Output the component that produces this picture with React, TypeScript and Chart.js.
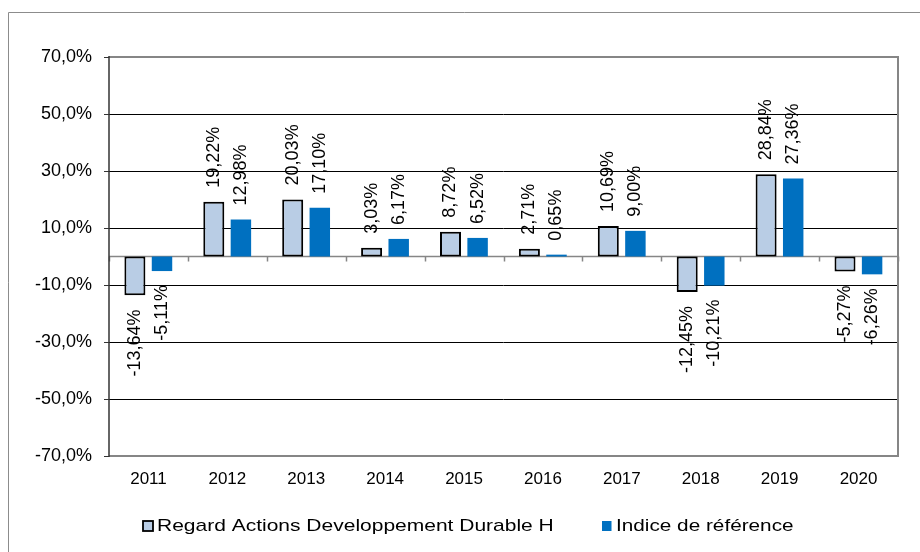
import React, { useEffect, useRef } from "react";
import { Chart, registerables } from "chart.js";

Chart.register(...registerables);

const categories = ["2011", "2012", "2013", "2014", "2015", "2016", "2017", "2018", "2019", "2020"];
const fundLabel = "Regard Actions Developpement Durable H";
const indexLabel = "Indice de référence";
const fundValues = [-13.64, 19.22, 20.03, 3.03, 8.72, 2.71, 10.69, -12.45, 28.84, -5.27];
const indexValues = [-5.11, 12.98, 17.1, 6.17, 6.52, 0.65, 9.0, -10.21, 27.36, -6.26];
const yMin = -70;
const yMax = 70;
const yStep = 20;

const FONT = "'Liberation Sans', Arial, sans-serif";
const FRAME = "#868686";

const fmtPct = (v: number, d: number) => v.toFixed(d).replace(".", ",") + "%";

const decorPlugin = {
  id: "decor",
  beforeDraw(chart: any) {
    const ctx = chart.ctx;
    ctx.save();
    ctx.strokeStyle = "#8c8c8c";
    ctx.lineWidth = 1;
    ctx.beginPath();
    ctx.moveTo(8.5, 560);
    ctx.lineTo(8.5, 12.5);
    ctx.lineTo(930, 12.5);
    ctx.stroke();
    ctx.restore();
  },
  beforeDatasetsDraw(chart: any) {
    const ctx = chart.ctx;
    const ca = chart.chartArea;
    const xs = chart.scales.x;
    const ys = chart.scales.y;
    const y0 = ys.getPixelForValue(0);
    const half = (xs.getPixelForValue(1) - xs.getPixelForValue(0)) / 2;
    ctx.save();
    ctx.strokeStyle = FRAME;
    ctx.lineWidth = 1.5;
    ctx.beginPath();
    ctx.moveTo(ca.left, y0);
    ctx.lineTo(ca.right, y0);
    for (let i = 0; i <= categories.length; i++) {
      const x = Math.round(xs.getPixelForValue(0) - half + i * 2 * half) + 0.5;
      ctx.moveTo(x, y0);
      ctx.lineTo(x, y0 + 5);
    }
    ctx.stroke();
    ctx.restore();
  },
  afterDatasetsDraw(chart: any) {
    const ctx = chart.ctx;
    const ca = chart.chartArea;
    ctx.save();
    // frame
    ctx.strokeStyle = FRAME;
    ctx.lineWidth = 2;
    ctx.beginPath();
    ctx.moveTo(ca.left, ca.top);
    ctx.lineTo(ca.right, ca.top);
    ctx.lineTo(ca.right, ca.bottom);
    ctx.lineTo(ca.left, ca.bottom);
    ctx.stroke();
    ctx.strokeStyle = "#333";
    ctx.lineWidth = 1.5;
    ctx.beginPath();
    ctx.moveTo(ca.left, ca.top - 1);
    ctx.lineTo(ca.left, ca.bottom + 1);
    ctx.stroke();

    // data labels
    ctx.font = `18px ${FONT}`;
    ctx.fillStyle = "#000";
    ctx.textBaseline = "middle";
    chart.data.datasets.forEach((ds: any, di: number) => {
      const meta = chart.getDatasetMeta(di);
      meta.data.forEach((el: any, i: number) => {
        const v = ds.data[i];
        const gap = 14;
        ctx.save();
        if (v >= 0) {
          ctx.translate(el.x, Math.min(el.y, el.base) - gap);
          ctx.rotate(-Math.PI / 2);
          ctx.textAlign = "left";
        } else {
          ctx.translate(el.x, Math.max(el.y, el.base) + gap);
          ctx.rotate(-Math.PI / 2);
          ctx.textAlign = "right";
        }
        ctx.fillText(fmtPct(v, 2), 0, 0);
        ctx.restore();
      });
    });

    // legend
    const items = [
      { boxX: 143, boxW: 10, textX: 157 },
      { boxX: 602, boxW: 9.5, textX: 616 },
    ];
    const ly = 526;
    chart.data.datasets.forEach((ds: any, di: number) => {
      const it = items[di];
      ctx.save();
      ctx.fillStyle = ds.backgroundColor;
      ctx.fillRect(it.boxX, ly - 5, it.boxW, 10);
      if (ds.borderWidth) {
        ctx.strokeStyle = ds.borderColor;
        ctx.lineWidth = 1.8;
        ctx.strokeRect(it.boxX, ly - 5, it.boxW, 10);
      }
      ctx.translate(it.textX, ly);
      ctx.scale(di === 0 ? 1.235 : 1.22, 1);
      ctx.font = `17px ${FONT}`;
      ctx.fillStyle = "#000";
      ctx.textAlign = "left";
      ctx.textBaseline = "middle";
      ctx.fillText(ds.label, 0, 0);
      ctx.restore();
    });
    ctx.restore();
  },
};

export default function App() {
  const ref = useRef<HTMLCanvasElement | null>(null);
  useEffect(() => {
    if (!ref.current) return;
    const chart = new Chart(ref.current, {
      type: "bar",
      data: {
        labels: categories,
        datasets: [
          {
            label: fundLabel,
            data: fundValues,
            backgroundColor: "#b9cde5",
            borderColor: "#000",
            borderWidth: 2,
            borderSkipped: false,
            categoryPercentage: 0.687,
            barPercentage: 0.775,
          },
          {
            label: indexLabel,
            data: indexValues,
            backgroundColor: "#0070c0",
            borderWidth: 0,
            categoryPercentage: 0.687,
            barPercentage: 0.755,
          },
        ],
      },
      options: {
        animation: false,
        responsive: false,
        maintainAspectRatio: false,
        layout: { padding: { left: 0, top: 57, right: 22, bottom: 0 } },
        plugins: { legend: { display: false }, tooltip: { enabled: false } },
        scales: {
          x: {
            grid: { display: false, drawTicks: false },
            border: { display: false },
            ticks: { font: { family: FONT, size: 17 }, color: "#000", padding: 13, maxRotation: 0 },
            afterFit: (s: any) => {
              s.height = 96;
            },
          },
          y: {
            min: yMin,
            max: yMax,
            ticks: {
              stepSize: yStep,
              font: { family: FONT, size: 18 },
              color: "#000",
              padding: 12,
              callback: (v: any) => fmtPct(Number(v), 1),
            },
            grid: {
              color: (c: any) => (c.tick && (c.tick.value === yMin || c.tick.value === yMax || c.tick.value === 0) ? "rgba(0,0,0,0)" : "#000"),
              tickColor: "#333",
              tickLength: 5,
              lineWidth: 1,
            },
            border: { display: false },
            afterFit: (s: any) => {
              s.width = 109;
            },
          },
        },
      },
      plugins: [decorPlugin],
    });
    return () => chart.destroy();
  }, []);
  return (
    <div style={{ position: "fixed", left: 0, top: 0, width: 920, height: 552, background: "#fff" }}>
      <canvas ref={ref} width={920} height={552} style={{ display: "block", width: 920, height: 552 }} />
    </div>
  );
}
